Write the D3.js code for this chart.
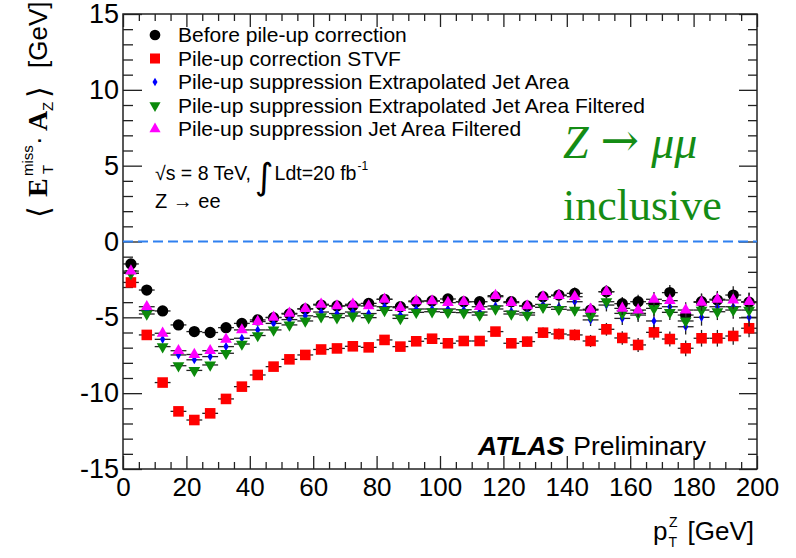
<!DOCTYPE html>
<html>
<head>
<meta charset="utf-8">
<script src="https://cdn.jsdelivr.net/npm/d3@7"></script>
<style>
  body { margin: 0; background: #fff; }
  svg { display: block; font-family: "Liberation Sans", Arial, sans-serif; }
</style>
</head>
<body>
<div id="vis"></div>
<script>
// MET projection onto the Z axis vs pT(Z), 5 GeV bins
const FRAME_WIDTH = 796;
const FRAME_HEIGHT = 558;
const MARGINS = {left: 123, right: 39, top: 14, bottom: 89};

const binCenters = [2.5, 7.5, 12.5, 17.5, 22.5, 27.5, 32.5, 37.5, 42.5, 47.5,
  52.5, 57.5, 62.5, 67.5, 72.5, 77.5, 82.5, 87.5, 92.5, 97.5,
  102.5, 107.5, 112.5, 117.5, 122.5, 127.5, 132.5, 137.5, 142.5, 147.5,
  152.5, 157.5, 162.5, 167.5, 172.5, 177.5, 182.5, 187.5, 192.5, 197.5];
const binHalfWidth = 2.5;

const beforeCorr = [-1.48, -3.2, -4.58, -5.5, -5.94, -6.0, -5.68, -5.4, -5.17, -5.02,
  -4.78, -4.45, -4.19, -4.25, -4.23, -4.08, -3.81, -4.3, -3.97, -3.92,
  -3.79, -3.97, -3.97, -3.64, -3.97, -4.25, -3.64, -3.53, -3.42, -4.52,
  -3.31, -4.1, -3.97, -4.1, -3.37, -4.85, -3.97, -3.86, -3.53, -4.0];
const stvf = [-2.7, -6.16, -9.3, -11.2, -11.77, -11.33, -10.38, -9.57, -8.8, -8.25,
  -7.77, -7.48, -7.12, -7.05, -6.91, -6.98, -6.49, -6.93, -6.58, -6.41,
  -6.71, -6.56, -6.56, -5.94, -6.71, -6.6, -6.01, -6.1, -6.16, -6.56,
  -5.79, -6.36, -6.82, -5.99, -6.43, -7.04, -6.38, -6.38, -6.23, -5.72];
const extrapJetArea = [-2.1, -4.55, -6.45, -7.48, -7.8, -7.59, -6.93, -6.38, -5.83, -5.4,
  -5.15, -4.9, -4.65, -4.75, -4.65, -4.75, -4.3, -4.85, -4.45, -4.45,
  -4.45, -4.5, -4.65, -4.25, -4.6, -4.7, -4.15, -4.3, -3.97, -5.17,
  -4.19, -5.07, -4.85, -5.24, -4.3, -5.62, -5.0, -4.3, -4.3, -5.0];
const extrapJetAreaFilt = [-2.1, -4.78, -6.93, -8.19, -8.5, -8.14, -7.37, -6.76, -6.2, -5.83,
  -5.5, -5.24, -4.96, -5.02, -4.91, -5.02, -4.54, -5.07, -4.67, -4.63,
  -4.67, -4.69, -4.85, -4.45, -4.78, -4.85, -4.34, -4.47, -4.52, -4.91,
  -3.97, -4.74, -4.74, -4.41, -4.67, -5.24, -4.52, -4.63, -4.52, -4.52];
const jetAreaFilt = [-1.95, -4.3, -6.05, -7.2, -7.45, -7.2, -6.45, -5.83, -5.28, -5.0,
  -4.74, -4.43, -4.14, -4.25, -4.14, -4.25, -3.81, -4.36, -3.92, -3.92,
  -4.03, -3.97, -4.3, -3.57, -4.03, -4.25, -3.64, -3.57, -3.64, -4.47,
  -3.31, -4.41, -4.52, -3.81, -3.9, -4.52, -4.01, -3.81, -3.86, -3.97];
// statistical uncertainty per bin
const yErr = [0.3, 0.15, 0.1, 0.1, 0.1, 0.1, 0.1, 0.1, 0.1, 0.1,
  0.12, 0.12, 0.14, 0.15, 0.16, 0.18, 0.2, 0.2, 0.22, 0.24,
  0.25, 0.27, 0.28, 0.3, 0.3, 0.32, 0.34, 0.36, 0.38, 0.4,
  0.42, 0.44, 0.46, 0.48, 0.5, 0.52, 0.55, 0.55, 0.58, 0.6];

const legendLabels = ["Before pile-up correction", "Pile-up correction STVF",
  "Pile-up suppression Extrapolated Jet Area",
  "Pile-up suppression Extrapolated Jet Area Filtered",
  "Pile-up suppression Jet Area Filtered"];

const xTicksMajor = [0, 20, 40, 60, 80, 100, 120, 140, 160, 180, 200];
const xTicksMinor = [5, 10, 15, 25, 30, 35, 45, 50, 55, 65, 70, 75, 85, 90, 95, 105, 110, 115,
  125, 130, 135, 145, 150, 155, 165, 170, 175, 185, 190, 195];
const yTicksMajor = [-15, -10, -5, 0, 5, 10, 15];
const yTicksMinor = [-14, -13, -12, -11, -9, -8, -7, -6, -4, -3, -2, -1,
  1, 2, 3, 4, 6, 7, 8, 9, 11, 12, 13, 14];

// marker styles, drawn in this order
const series = [
  {values: beforeCorr, color: "#000000", type: d3.symbolCircle, size: 100, rot: 0},
  {values: stvf, color: "#ff0000", type: d3.symbolSquare, size: 112, rot: 0},
  {values: extrapJetArea, color: "#0000ff", type: d3.symbolDiamond, size: 24, rot: 0},
  {values: extrapJetAreaFilt, color: "#0b8a0b", type: d3.symbolTriangle, size: 60, rot: 180},
  {values: jetAreaFilt, color: "#ff00ff", type: d3.symbolTriangle, size: 60, rot: 0}
];

const svg = d3.select("#vis").append("svg")
  .attr("width", FRAME_WIDTH)
  .attr("height", FRAME_HEIGHT);

svg.append("rect").attr("width", FRAME_WIDTH).attr("height", FRAME_HEIGHT).attr("fill", "#fff");

const x0 = MARGINS.left, x1 = FRAME_WIDTH - MARGINS.right;
const y0 = MARGINS.top, y1 = FRAME_HEIGHT - MARGINS.bottom;

const xScale = d3.scaleLinear().domain([0, 200]).range([x0, x1]);
const yScale = d3.scaleLinear().domain([-15, 15]).range([y1, y0]);

// axes: ROOT style, ticks pointing inward on all four sides
function styleAxis(g, fontSize) {
  g.select(".domain").remove();
  g.selectAll("line").attr("stroke", "#222").attr("stroke-width", 1.3);
  g.selectAll("text").attr("font-size", fontSize).attr("fill", "#000")
    .attr("font-family", "Liberation Sans, Arial, sans-serif");
}

svg.append("g").attr("transform", `translate(0,${y1})`)
  .call(d3.axisBottom(xScale).tickValues(xTicksMajor).tickSize(-13).tickPadding(9).tickFormat(d => String(d)))
  .call(g => styleAxis(g, 26));
svg.append("g").attr("transform", `translate(0,${y1})`)
  .call(d3.axisBottom(xScale).tickValues(xTicksMinor).tickSize(-7).tickFormat(""))
  .call(g => styleAxis(g, 0));
svg.append("g").attr("transform", `translate(0,${y0})`)
  .call(d3.axisTop(xScale).tickValues(xTicksMajor).tickSize(-13).tickFormat(""))
  .call(g => styleAxis(g, 0));
svg.append("g").attr("transform", `translate(0,${y0})`)
  .call(d3.axisTop(xScale).tickValues(xTicksMinor).tickSize(-7).tickFormat(""))
  .call(g => styleAxis(g, 0));

svg.append("g").attr("transform", `translate(${x0},0)`)
  .call(d3.axisLeft(yScale).tickValues(yTicksMajor).tickSize(-19).tickPadding(4).tickFormat(d => String(d)))
  .call(g => styleAxis(g, 27));
svg.append("g").attr("transform", `translate(${x0},0)`)
  .call(d3.axisLeft(yScale).tickValues(yTicksMinor).tickSize(-10).tickFormat(""))
  .call(g => styleAxis(g, 0));
svg.append("g").attr("transform", `translate(${x1},0)`)
  .call(d3.axisRight(yScale).tickValues(yTicksMajor).tickSize(-18).tickFormat(""))
  .call(g => styleAxis(g, 0));
svg.append("g").attr("transform", `translate(${x1},0)`)
  .call(d3.axisRight(yScale).tickValues(yTicksMinor).tickSize(-9).tickFormat(""))
  .call(g => styleAxis(g, 0));

// frame
svg.append("rect")
  .attr("x", x0).attr("y", y0)
  .attr("width", x1 - x0).attr("height", y1 - y0)
  .attr("fill", "none").attr("stroke", "#222").attr("stroke-width", 1.5);

// zero line
svg.append("line")
  .attr("x1", xScale(0)).attr("x2", xScale(200))
  .attr("y1", yScale(0)).attr("y2", yScale(0))
  .attr("stroke", "#2f80f0").attr("stroke-width", 2)
  .attr("stroke-dasharray", "10,5");

// points with error bars
const plot = svg.append("g");
series.forEach(s => {
  const pts = binCenters.map((c, i) => ({c: c, v: s.values[i], e: yErr[i]}));
  const g = plot.append("g");
  g.selectAll(".xerr").data(pts).enter().append("line")
    .attr("x1", d => xScale(d.c - binHalfWidth)).attr("x2", d => xScale(d.c + binHalfWidth))
    .attr("y1", d => yScale(d.v)).attr("y2", d => yScale(d.v))
    .attr("stroke", "#222").attr("stroke-width", 1.3);
  g.selectAll(".yerr").data(pts).enter().append("line")
    .attr("x1", d => xScale(d.c)).attr("x2", d => xScale(d.c))
    .attr("y1", d => yScale(d.v - d.e)).attr("y2", d => yScale(d.v + d.e))
    .attr("stroke", "#222").attr("stroke-width", 1.3);
  g.selectAll(".pt").data(pts).enter().append("path")
    .attr("d", d3.symbol().type(s.type).size(s.size))
    .attr("transform", d => `translate(${xScale(d.c)},${yScale(d.v)}) rotate(${s.rot})`)
    .attr("fill", s.color);
});

// legend
const legend = svg.append("g");
legendLabels.forEach((lab, i) => {
  const ly = 35 + i * 23.5;
  const s = series[i];
  legend.append("path")
    .attr("d", d3.symbol().type(s.type).size(s.size * 0.9))
    .attr("transform", `translate(155,${ly}) rotate(${s.rot})`)
    .attr("fill", s.color);
  legend.append("text")
    .attr("x", 178).attr("y", ly + 7)
    .attr("font-size", 21).text(lab);
});

// text laid out piece by piece
function chain(parts, startX) {
  let cx = startX;
  parts.forEach(p => {
    const t = svg.append("text")
      .attr("x", cx + (p.dx || 0)).attr("y", p.y)
      .attr("font-size", p.size)
      .attr("font-family", p.family || "Liberation Sans, Arial, sans-serif")
      .text(p.text);
    if (p.weight) t.attr("font-weight", p.weight);
    if (p.style) t.attr("font-style", p.style);
    if (p.fill) t.attr("fill", p.fill);
    cx = cx + (p.dx || 0) + t.node().getComputedTextLength() + (p.after || 0);
  });
}
chain([
  {text: "\u221As = 8 TeV,", y: 180, size: 19.5, after: 4},
  {text: "\u222B", y: 189, size: 36, family: "DejaVu Sans", after: 1},
  {text: "Ldt=20 fb", y: 180, size: 19.5, after: 1},
  {text: "-1", y: 170, size: 12}
], 155);
chain([{text: "Z \u2192 ee", y: 208, size: 20}], 155);

// channel label
const green = "#148c14";
chain([
  {text: "Z", y: 158, size: 46, style: "italic", family: "Liberation Serif, Times New Roman, serif", fill: green, after: 12},
  {text: "\u2192", y: 156, size: 46, family: "DejaVu Serif", fill: green, after: 12},
  {text: "\u03BC\u03BC", y: 158, size: 46, style: "italic", family: "Liberation Serif, Times New Roman, serif", fill: green}
], 563);
svg.append("text").attr("x", 563).attr("y", 220)
  .attr("font-family", "Liberation Serif, Times New Roman, serif")
  .attr("font-size", 44).attr("fill", green)
  .text("inclusive");

// experiment label
chain([
  {text: "ATLAS", y: 455, size: 26.5, weight: "bold", style: "italic", after: 9},
  {text: "Preliminary", y: 455, size: 26.5}
], 478);

// x-axis title
chain([
  {text: "p", y: 540, size: 26, after: 1},
  {text: "T", y: 547, size: 14, after: -8},
  {text: "Z", y: 527, size: 14, after: 10},
  {text: "[GeV]", y: 540, size: 26}
], 653);

// y-axis title, rotated
const yt = svg.append("g").attr("transform", "translate(47,216) rotate(-90)");
function ytext(txt, lx, ly, size, opts) {
  const t = yt.append("text").attr("x", lx).attr("y", ly).attr("font-size", size).text(txt);
  if (opts && opts.serif) t.attr("font-family", "Liberation Serif, Times New Roman, serif").attr("font-weight", "bold");
  if (opts && opts.dejavu) t.attr("font-family", "DejaVu Sans");
  return t;
}
ytext("\u27E8", -2, 2, 30, {dejavu: true});
ytext("E", 19, 0, 28, {serif: true});
ytext("miss", 40, -14, 15);
ytext("T", 42, 6, 15);
ytext("\u00B7", 71, 0, 26);
ytext("A", 85, 0, 28, {serif: true});
ytext("Z", 105, 6, 15);
ytext("\u27E9", 118, 2, 30, {dejavu: true});
ytext("[GeV]", 148, 0, 26);
</script>
</body>
</html>
